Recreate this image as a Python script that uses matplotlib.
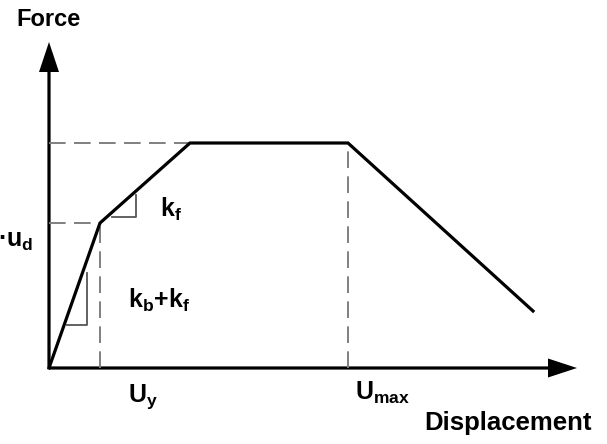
import matplotlib
matplotlib.use('Agg')
import matplotlib.pyplot as plt

# idealised force-displacement backbone (units ~ px of the original sketch)
displacement = [0, 51, 141, 299, 484]
force = [0, 145, 225, 225, 57]
u_y = 51
u_max = 299
f_y = 145
f_max = 225

# slope triangles (x pair, y pair)
tri_kbkf = ([18, 38], [43, 95])
tri_kf = ([63, 87], [151, 173])

plt.rcParams['font.family'] = ['Liberation Sans', 'DejaVu Sans']
plt.rcParams['font.weight'] = 'bold'
plt.rcParams['mathtext.fontset'] = 'custom'
plt.rcParams['mathtext.rm'] = 'Liberation Sans:bold'
plt.rcParams['mathtext.it'] = 'Liberation Sans:bold'
plt.rcParams['mathtext.bf'] = 'Liberation Sans:bold'
plt.rcParams['lines.scale_dashes'] = False

fig = plt.figure(figsize=(6.07, 4.44), dpi=100)
ax = fig.add_axes([0, 0, 1, 1])
ax.set_xlim(-49, 558)
ax.set_ylim(-76, 368)
ax.axis('off')

dash_kw = dict(color='#808080', lw=1.4, dashes=(12, 6))
ax.plot([0, displacement[2]], [f_max, f_max], **dash_kw)
ax.plot([0, u_y], [f_y, f_y], **dash_kw)
ax.plot([u_y, u_y], [0, f_y], **dash_kw)
ax.plot([u_max, u_max], [0, f_max], **dash_kw)

# triangles
for xs, ys in (tri_kbkf, tri_kf):
    ax.plot([xs[0], xs[1], xs[1]], [ys[0], ys[0], ys[1]], color='#555555', lw=1.3)

ax.plot(displacement, force, color='black', lw=2.3, solid_joinstyle='miter')

# axes arrows
ax.arrow(0, 0, 0, 326, width=3.2, head_width=20, head_length=30,
         length_includes_head=True, color='black', lw=0)
ax.arrow(0, 0, 528, 0, width=3.2, head_width=19, head_length=29,
         length_includes_head=True, color='black', lw=0)

fs = 18
ax.text(-1, 342, 'Force', ha='center', va='baseline', fontsize=17)
ax.text(543, -62, 'Displacement', ha='right', va='baseline', fontsize=18.5)
ax.text(111, 151, r'k$_{f}$', ha='left', va='baseline', fontsize=fs)
ax.text(79, 60, r'k$_{b}$+k$_{f}$', ha='left', va='baseline', fontsize=fs)
ax.text(79, -34, r'U$_{y}$', ha='left', va='baseline', fontsize=fs)
ax.text(306, -32, r'U$_{max}$', ha='left', va='baseline', fontsize=fs)
ax.text(-16, 128, r'F$_{y}$=k$_{b}$·u$_{d}$', ha='right', va='center', fontsize=fs)

fig.savefig('out.png', dpi=100)
